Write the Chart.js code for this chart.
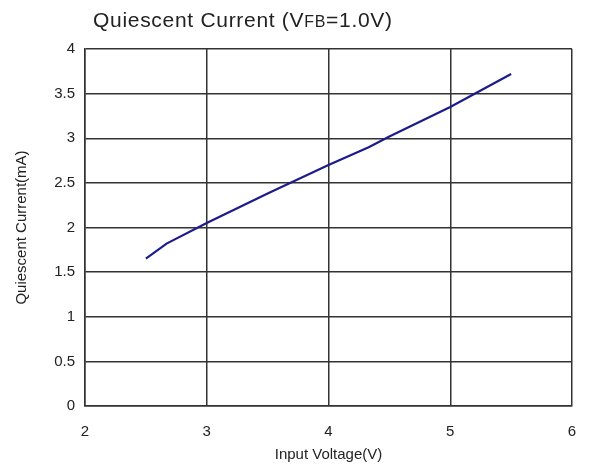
<!DOCTYPE html>
<html>
<head>
<meta charset="utf-8">
<script src="https://cdn.jsdelivr.net/npm/chart.js@4.4.1/dist/chart.umd.min.js"></script>
<style>
  body { margin: 0; background: #fff; }
  #wrap { width: 589px; height: 467px; }
</style>
</head>
<body>
<div id="wrap"><canvas id="qChart" width="589" height="467"></canvas></div>
<script>
// DATA
const inputVoltage = [2.5, 2.67, 3.0, 3.5, 4.0, 4.33, 4.5, 5.0, 5.5];
const quiescentCurrent = [1.65, 1.82, 2.05, 2.38, 2.70, 2.90, 3.02, 3.35, 3.72];
const xTicks = [2, 3, 4, 5, 6];
const yTicks = [0, 0.5, 1, 1.5, 2, 2.5, 3, 3.5, 4];

const points = inputVoltage.map((v, i) => ({ x: v, y: quiescentCurrent[i] }));

// TITLE with small "FB"
const titlePlugin = {
  id: "titlePlugin",
  afterDraw(chart) {
    const ctx = chart.ctx;
    ctx.save();
    ctx.fillStyle = "#222";
    ctx.textBaseline = "alphabetic";
    ctx.letterSpacing = "0.7px";
    let x = 93;
    const y = 27;
    const parts = [
      ["Quiescent Current (V", "21px 'Liberation Sans', Arial, sans-serif"],
      ["FB", "16px 'Liberation Sans', Arial, sans-serif"],
      ["=1.0V)", "21px 'Liberation Sans', Arial, sans-serif"]
    ];
    parts.forEach(p => {
      ctx.font = p[1];
      ctx.fillText(p[0], x, y);
      x += ctx.measureText(p[0]).width;
    });
    ctx.restore();
  }
};

const tickFont = { family: "'Liberation Sans', Arial, sans-serif", size: 15 };
const fmt = v => String(v);

new Chart(document.getElementById("qChart"), {
  type: "scatter",
  data: {
    datasets: [{
      data: points,
      showLine: true,
      borderColor: "#1c1c8a",
      borderWidth: 2.2,
      pointRadius: 0,
      tension: 0
    }]
  },
  options: {
    responsive: false,
    animation: false,
    layout: { padding: { left: 0, top: 49, right: 17, bottom: 0 } },
    plugins: { legend: { display: false }, tooltip: { enabled: false } },
    scales: {
      x: {
        type: "linear",
        min: 2,
        max: 6,
        afterBuildTicks: s => { s.ticks = xTicks.map(v => ({ value: v })); },
        afterFit: s => { s.height = 61; s.paddingRight = 0; s.paddingLeft = 0; },
        grid: { color: "#333", lineWidth: 1.5, drawTicks: false },
        border: { color: "#333", width: 1.5 },
        ticks: { color: "#222", font: tickFont, padding: 17, callback: fmt },
        title: {
          display: true,
          text: "Input Voltage(V)",
          color: "#222",
          font: tickFont,
          padding: { top: 0, bottom: 3 }
        }
      },
      y: {
        min: 0,
        max: 4,
        afterBuildTicks: s => { s.ticks = yTicks.map(v => ({ value: v })); },
        afterFit: s => { s.width = 85; s.paddingTop = 0; s.paddingBottom = 0; },
        grid: { color: "#333", lineWidth: 1.5, drawTicks: false },
        border: { color: "#333", width: 1.5 },
        ticks: { color: "#222", font: tickFont, padding: 10, callback: fmt },
        title: {
          display: true,
          text: "Quiescent Current(mA)",
          color: "#222",
          font: tickFont,
          padding: { top: 13, bottom: 0 }
        }
      }
    }
  },
  plugins: [titlePlugin]
});
</script>
</body>
</html>
